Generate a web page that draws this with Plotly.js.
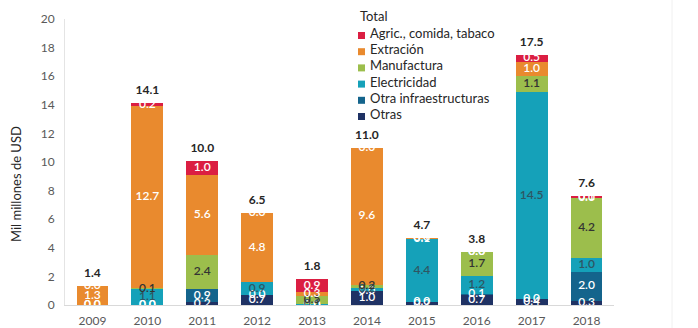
<!DOCTYPE html>
<html><head><meta charset="utf-8">
<script src="https://cdn.plot.ly/plotly-3.0.1.min.js"></script>
<style>body{margin:0;background:#fff}</style>
</head><body><div id="chart" style="width:698px;height:328px"></div>
<script>
// ---- data (Mil millones de USD) ----
const years = ['2009','2010','2011','2012','2013','2014','2015','2016','2017','2018'];
const otras        = [0.0, 0.0, 0.2, 0.7, 0.0, 1.0, 0.2, 0.7, 0.4, 0.3];
const otraInfra    = [0.0, 0.0, 0.9, 0.0, 0.0, 0.0, 0.0, 0.1, 0.0, 2.0];
const electricidad = [0.0, 1.1, 0.0, 0.9, 0.1, 0.2, 4.4, 1.2, 14.5, 1.0];
const manufactura  = [0.0, 0.1, 2.4, 0.0, 0.5, 0.2, 0.0, 1.7, 1.1, 4.2];
const extracion    = [1.3, 12.7, 5.6, 4.8, 0.3, 9.6, 0.1, 0.0, 1.0, 0.0];
const agric        = [0.0, 0.2, 1.0, 0.0, 0.9, 0.0, 0.0, 0.04, 0.5, 0.1];
const totals       = [1.4, 14.1, 10.0, 6.5, 1.8, 11.0, 4.7, 3.8, 17.5, 7.6];
const seriesNames = ['Otras','Otra infraestructuras','Electricidad','Manufactura','Extración','Agric., comida, tabaco'];
const legendTitle = 'Total';
const yTitle = 'Mil millones de USD';

const FONT = 'Lato, "Open Sans", sans-serif';
const series = [
  {name: seriesNames[0], v: otras,        color: '#1F3264', tc: '#ffffff'},
  {name: seriesNames[1], v: otraInfra,    color: '#14648C', tc: '#ffffff'},
  {name: seriesNames[2], v: electricidad, color: '#15A1B9', tc: '#2E5663'},
  {name: seriesNames[3], v: manufactura,  color: '#9CBE4C', tc: '#333333'},
  {name: seriesNames[4], v: extracion,    color: '#E98A2E', tc: '#ffffff'},
  {name: seriesNames[5], v: agric,        color: '#DB1E42', tc: '#ffffff'}
];

const traces = [];
const base = years.map(() => 0);
const labelTraces = [];
series.forEach(s => {
  traces.push({type: 'bar', x: years, y: s.v, marker: {color: s.color, line: {width: 0}},
               showlegend: false, hoverinfo: 'skip'});
  const lx = [], ly = [], lt = [];
  s.v.forEach((val, i) => {
    if (val > 0 || s.tc === '#ffffff') {
      lx.push(years[i]); ly.push(base[i] + val / 2); lt.push(val.toFixed(1));
    }
    base[i] += val;
  });
  labelTraces.push({type: 'scatter', mode: 'text', x: lx, y: ly, text: lt,
    textposition: 'middle center', cliponaxis: true,
    textfont: {family: FONT, size: 12, color: s.tc, weight: 600},
    showlegend: false, hoverinfo: 'skip'});
});
// totals above each stack
labelTraces.push({type: 'scatter', mode: 'markers+text', x: years, y: base.slice(),
  text: totals.map(t => t.toFixed(1)), marker: {size: 8, opacity: 0},
  textposition: 'top center', cliponaxis: false,
  textfont: {family: FONT, size: 12, color: '#262626', weight: 700},
  showlegend: false, hoverinfo: 'skip'});

// ---- manual legend (px positions converted to paper coords) ----
const L = 65, T = 19, W = 549, H = 286;
const px = x => (x - L) / W;
const py = y => (T + H - y) / H;
const annotations = [
  {xref: 'paper', yref: 'paper', x: px(16), y: py(184), text: yTitle, textangle: -90,
   showarrow: false, font: {family: FONT, size: 13, color: '#262626'}, xanchor: 'center', yanchor: 'middle'},
  {xref: 'paper', yref: 'paper', x: px(358), y: py(16), text: legendTitle, showarrow: false,
   xanchor: 'left', yanchor: 'middle', font: {family: FONT, size: 13, color: '#262626'}}
];
const shapes = [
  {type: 'line', xref: 'paper', yref: 'paper', x0: px(672), x1: px(672), y0: py(330), y1: py(-2),
   line: {color: '#F0F0F0', width: 1}}
];
const legendOrder = series.slice().reverse();
legendOrder.forEach((s, k) => {
  const cy = 33 + k * 16.2;
  annotations.push({xref: 'paper', yref: 'paper', x: px(368), y: py(cy), text: s.name, showarrow: false,
    xanchor: 'left', yanchor: 'middle', font: {family: FONT, size: 13, color: '#262626'}});
  shapes.push({type: 'rect', xref: 'paper', yref: 'paper', x0: px(358), x1: px(365), y0: py(cy + 6), y1: py(cy - 1),
    fillcolor: s.color, line: {width: 0}});
});

const layout = {
  width: 698, height: 328,
  margin: {l: L, r: 698 - L - W, t: T, b: 328 - T - H, pad: 0},
  paper_bgcolor: '#ffffff', plot_bgcolor: '#ffffff',
  barmode: 'stack', bargap: 0.42,
  hovermode: false, showlegend: false,
  font: {family: FONT, size: 12, color: '#595959'},
  xaxis: {type: 'category', range: [-0.5, 9.5], showgrid: false, zeroline: false,
    showline: true, linecolor: '#D9D9D9', linewidth: 1, ticks: '',
    tickfont: {family: FONT, size: 12, color: '#595959'}, ticklabelstandoff: 5, fixedrange: true},
  yaxis: {range: [0, 20], dtick: 2, showgrid: false, zeroline: false,
    showline: true, linecolor: '#E4E4E4', linewidth: 1, ticks: '',
    tickfont: {family: FONT, size: 12, color: '#595959'}, ticklabelstandoff: 7, fixedrange: true},
  annotations: annotations,
  shapes: shapes
};

Plotly.newPlot('chart', traces.concat(labelTraces), layout, {staticPlot: true, displayModeBar: false});
</script></body></html>
